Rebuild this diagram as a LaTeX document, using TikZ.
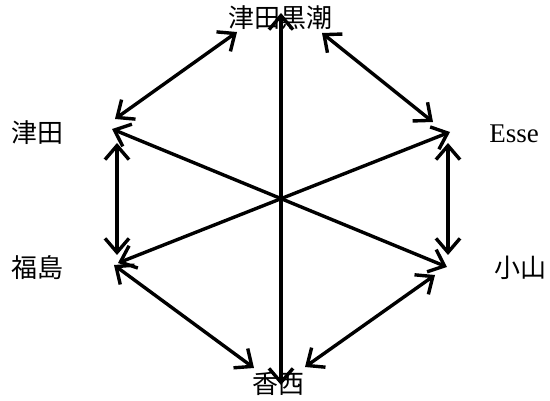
\documentclass[tikz,border=0pt]{standalone}
\usepackage{fontspec}
\setmainfont{Liberation Serif}
\newfontfamily\cjk{Noto Sans CJK JP}
\usetikzlibrary{arrows.meta}
\begin{document}
\begin{tikzpicture}[x=1pt,y=-1pt,
  lbl/.style={inner sep=0pt,font=\cjk\fontsize{26}{28}\selectfont},
  latin/.style={inner sep=0pt,anchor=base,font=\fontsize{27}{29}\selectfont},
  link/.style={line width=3.4pt,{Straight Barb[length=14pt,width=24pt]}-{Straight Barb[length=14pt,width=24pt]}}]
\useasboundingbox (0,0) rectangle (550,401);
% labels
\node[lbl] (top) at (280,18) {津田黒潮};
\node[lbl] (bot) at (278,384) {香西};
\node[lbl] (tsuda) at (38,133) {津田};
\node[lbl] (fuku) at (38,268) {福島};
\node[latin] (esse) at (514,143) {Esse};
\node[lbl] (koya) at (520,268) {小山};
% end points
\coordinate (tl1) at (237,32);  \coordinate (tl2) at (115,119);
\coordinate (ll1) at (117,143); \coordinate (ll2) at (117,255);
\coordinate (bl1) at (114,265); \coordinate (bl2) at (254,368);
\coordinate (br1) at (305,367); \coordinate (br2) at (435,275);
\coordinate (rr1) at (448,143); \coordinate (rr2) at (448,255);
\coordinate (tr1) at (322,33);  \coordinate (tr2) at (433,122);
\coordinate (vt) at (281,13);   \coordinate (vb) at (281,385);
\coordinate (d1a) at (112,129); \coordinate (d1b) at (447,267);
\coordinate (d2a) at (450,132); \coordinate (d2b) at (118,263);
% connectors
\draw[link] (tl1) -- (tl2);
\draw[link] (ll1) -- (ll2);
\draw[link] (bl1) -- (bl2);
\draw[link] (br1) -- (br2);
\draw[link] (rr1) -- (rr2);
\draw[link] (tr1) -- (tr2);
\draw[link] (vt) -- (vb);
\draw[link] (d1a) -- (d1b);
\draw[link] (d2a) -- (d2b);
\end{tikzpicture}
\end{document}
